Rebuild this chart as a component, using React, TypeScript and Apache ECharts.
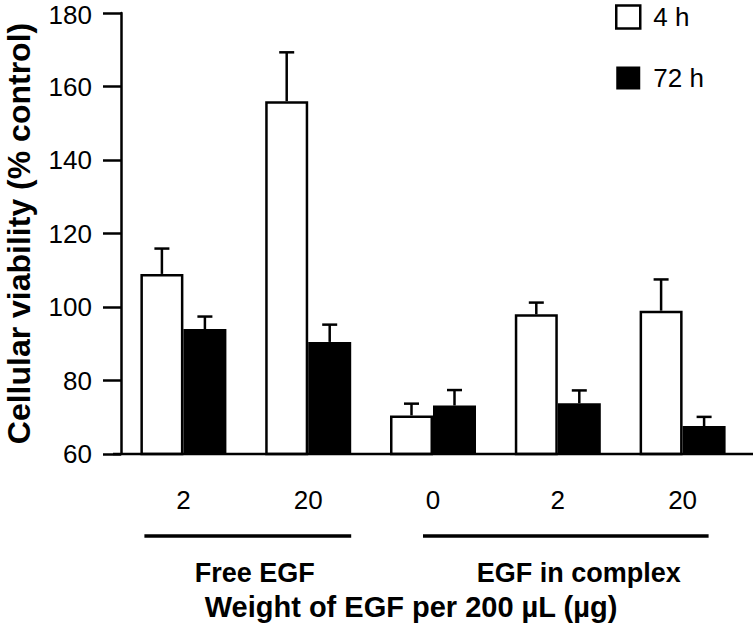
import React, { useEffect, useRef } from "react";
import * as echarts from "echarts";

const categories = ["2", "20", "0", "2", "20"];
const seriesNames = ["4 h", "72 h"];
const values4h = [109, 156, 70.5, 98, 99];
const err4h = [6.9, 13.3, 3.2, 3.2, 8.5];
const values72h = [94, 90.5, 73.2, 73.8, 67.6];
const err72h = [3.4, 4.7, 4.2, 3.5, 2.5];
const yTicks = { min: 60, max: 180, interval: 20 };
const groups = [
  { name: "Free EGF", from: 0, to: 1 },
  { name: "EGF in complex", from: 2, to: 4 },
];
const yTitle = "Cellular viability (% control)";
const xTitle = "Weight of EGF per 200 \u00b5L (\u00b5g)";

const FONT = "'Liberation Sans', Arial, Helvetica, sans-serif";
const BAR_W = 43;

export default function App() {
  const ref = useRef<HTMLDivElement>(null);
  useEffect(() => {
    if (!ref.current) return;
    const chart = echarts.init(ref.current, undefined, { renderer: "svg" });

    const errSeries = (vals: number[], errs: number[], offset: number, name: string) => ({
      type: "custom",
      name: name + " err",
      silent: true,
      z: 1,
      data: vals.map((v, i) => [i, v, errs[i]]),
      renderItem: (params: any, api: any) => {
        const i = api.value(0);
        const v = api.value(1);
        const e = api.value(2);
        const base = api.coord([i, v]);
        const top = api.coord([i, v + e]);
        const x = base[0] + offset;
        return {
          type: "group",
          children: [
            {
              type: "line",
              shape: { x1: x, y1: base[1], x2: x, y2: top[1] },
              style: { stroke: "#000", lineWidth: 2.5 },
            },
            {
              type: "line",
              shape: { x1: x - 7.5, y1: top[1], x2: x + 7.5, y2: top[1] },
              style: { stroke: "#000", lineWidth: 2.5 },
            },
          ],
        };
      },
    });

    chart.setOption({
      animation: false,
      backgroundColor: "#fff",
      textStyle: { fontFamily: FONT },
      grid: {
        left: 121,
        top: 13,
        width: 624,
        height: 441,
        containLabel: false,
        outerBoundsMode: "none",
      },
      legend: {
        orient: "vertical",
        left: 615,
        top: 4,
        padding: 0,
        itemWidth: 24,
        itemHeight: 23,
        itemGap: 35,
        icon: "rect",
        textStyle: { fontSize: 26, color: "#000", fontFamily: FONT, padding: [0, 0, 0, 8] },
        data: [
          { name: seriesNames[0], itemStyle: { color: "#fff", borderColor: "#000", borderWidth: 2.5 } },
          { name: seriesNames[1], itemStyle: { color: "#000", borderColor: "#000", borderWidth: 0 } },
        ],
      },
      xAxis: {
        type: "category",
        data: categories,
        axisLine: { show: false },
        axisTick: { show: false },
        axisLabel: { margin: 33, fontSize: 26, color: "#000", fontFamily: FONT },
      },
      yAxis: {
        type: "value",
        min: yTicks.min,
        max: yTicks.max,
        interval: yTicks.interval,
        name: yTitle,
        nameLocation: "middle",
        nameGap: 86,
        nameTextStyle: { fontSize: 32, fontWeight: "bold", color: "#000", fontFamily: FONT },
        axisLine: { show: true, lineStyle: { color: "#000", width: 2.5 } },
        axisTick: { show: true, length: 18, lineStyle: { color: "#000", width: 2.5 } },
        axisLabel: {
          margin: 29,
          fontSize: 26,
          color: "#000",
          fontFamily: FONT,
          formatter: (v: number) => (v === yTicks.max ? `{mx|${v}}` : String(v)),
          rich: {
            mx: { fontSize: 26, color: "#000", fontFamily: FONT, padding: [4, 0, 0, 0] },
          },
        },
        splitLine: { show: false },
      },
      series: [
        {
          type: "bar",
          name: seriesNames[0],
          data: values4h,
          barWidth: BAR_W,
          barGap: "0%",
          z: 2,
          itemStyle: { color: "#fff", borderColor: "#000", borderWidth: 2.5 },
        },
        {
          type: "bar",
          name: seriesNames[1],
          data: values72h,
          barWidth: BAR_W,
          barGap: "0%",
          z: 2,
          itemStyle: { color: "#000", borderColor: "#000", borderWidth: 0 },
        },
        errSeries(values4h, err4h, -BAR_W / 2, seriesNames[0]),
        errSeries(values72h, err72h, BAR_W / 2, seriesNames[1]),
      ],
    });

    const px = (i: number) =>
      chart.convertToPixel({ xAxisIndex: 0, yAxisIndex: 0 }, [i, yTicks.min]) as number[];
    const axisY = px(0)[1];
    const groupOffsets = [
      { l: -39, r: 43, t: 9 },
      { l: -10, r: 26, t: 21 },
    ];
    const graphics: any[] = [
      {
        type: "line",
        shape: { x1: 113, y1: axisY, x2: 753, y2: axisY },
        style: { stroke: "#000", lineWidth: 2.5 },
        z: 10,
      },
    ];
    groups.forEach((g, k) => {
      const x1 = px(g.from)[0] + groupOffsets[k].l;
      const x2 = px(g.to)[0] + groupOffsets[k].r;
      const mid = (px(g.from)[0] + px(g.to)[0]) / 2 + groupOffsets[k].t;
      graphics.push({
        type: "line",
        shape: { x1, y1: axisY + 82, x2, y2: axisY + 82 },
        style: { stroke: "#000", lineWidth: 3.5 },
      });
      graphics.push({
        type: "text",
        x: mid,
        y: axisY + 119,
        style: {
          text: g.name,
          fill: "#000",
          font: `bold 27px ${FONT}`,
          align: "center",
          verticalAlign: "middle",
        },
      });
    });
    graphics.push({
      type: "text",
      x: 411,
      y: axisY + 153,
      style: {
        text: xTitle,
        fill: "#000",
        font: `bold 29px ${FONT}`,
        align: "center",
        verticalAlign: "middle",
      },
    });
    chart.setOption({ graphic: graphics });

    return () => chart.dispose();
  }, []);
  return (
    <div
      ref={ref}
      style={{ position: "fixed", left: 0, top: 0, width: 753, height: 630 }}
    />
  );
}
